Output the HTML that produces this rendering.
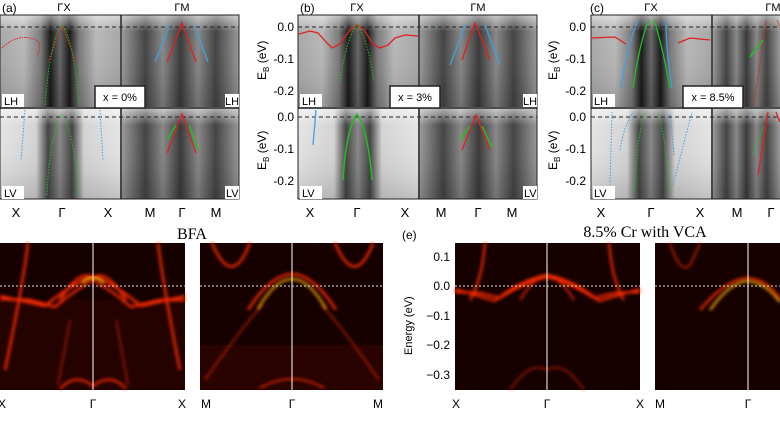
<!DOCTYPE html>
<html><head><meta charset="utf-8"><style>
body{margin:0;background:#fff;width:780px;height:439px;overflow:hidden}
svg{display:block;font-family:"Liberation Sans",sans-serif}
</style></head><body>
<svg width="780" height="439" viewBox="0 0 780 439" xmlns="http://www.w3.org/2000/svg">
<defs>
<linearGradient id="gx" x1="0" x2="1" y1="0" y2="0">
<stop offset="0" stop-color="#a8a8a8"/><stop offset="0.2" stop-color="#b8b8b8"/><stop offset="0.34" stop-color="#7a7a7a"/><stop offset="0.42" stop-color="#1a1a1a"/><stop offset="0.5" stop-color="#666"/><stop offset="0.58" stop-color="#1a1a1a"/><stop offset="0.66" stop-color="#7a7a7a"/><stop offset="0.8" stop-color="#b8b8b8"/><stop offset="1" stop-color="#a8a8a8"/></linearGradient>
<linearGradient id="gxl" x1="0" x2="1" y1="0" y2="0">
<stop offset="0" stop-color="#e4e4e4"/><stop offset="0.3" stop-color="#d4d4d4"/><stop offset="0.4" stop-color="#444"/><stop offset="0.5" stop-color="#888"/><stop offset="0.6" stop-color="#444"/><stop offset="0.7" stop-color="#d4d4d4"/><stop offset="1" stop-color="#e4e4e4"/></linearGradient>
<linearGradient id="gm" x1="0" x2="1" y1="0" y2="0">
<stop offset="0" stop-color="#999"/><stop offset="0.2" stop-color="#444"/><stop offset="0.35" stop-color="#888"/><stop offset="0.5" stop-color="#3a3a3a"/><stop offset="0.65" stop-color="#888"/><stop offset="0.8" stop-color="#444"/><stop offset="1" stop-color="#999"/></linearGradient>
<linearGradient id="top" x1="0" x2="0" y1="0" y2="1">
<stop offset="0" stop-color="#fff" stop-opacity="0.55"/><stop offset="0.18" stop-color="#fff" stop-opacity="0"/><stop offset="0.7" stop-color="#000" stop-opacity="0.05"/><stop offset="1" stop-color="#000" stop-opacity="0.15"/></linearGradient>
<filter id="glow" x="-20%" y="-20%" width="140%" height="140%"><feGaussianBlur stdDeviation="1.6"/></filter>
</defs>

<!-- ===== top panel (a) ===== -->
<g>
<rect x="0" y="15" width="120" height="92" fill="url(#gx)"/>
<rect x="122" y="15" width="117" height="92" fill="url(#gm)"/>
<rect x="0" y="109" width="120" height="90" fill="url(#gxl)"/>
<rect x="122" y="109" width="117" height="90" fill="url(#gm)"/>
<rect x="0" y="15" width="239" height="92" fill="url(#top)"/>
<rect x="0" y="109" width="239" height="90" fill="url(#top)"/>
<rect x="0" y="15" width="239" height="184" fill="none" stroke="#222"/>
<line x1="121" y1="15" x2="121" y2="199" stroke="#111" stroke-width="1.5"/>
<line x1="0" y1="108" x2="239" y2="108" stroke="#111" stroke-width="1.5"/>
<line x1="0" y1="27" x2="239" y2="27" stroke="#222" stroke-dasharray="4,3"/>
<line x1="0" y1="117" x2="239" y2="117" stroke="#222" stroke-dasharray="4,3"/>
<path d="M2 48 Q15 35 30 38 T37 55" stroke="#e02020" fill="none" stroke-dasharray="1.5,1"/>
<path d="M48 62 L62 25 L76 62" stroke="#e02020" fill="none" stroke-dasharray="1.5,1"/>
<path d="M45 105 Q50 40 62 25 Q74 40 79 105" stroke="#20c020" fill="none" stroke-dasharray="1.5,1.5"/>
<path d="M47 195 Q50 130 62 115 Q74 130 78 195" stroke="#20c020" fill="none" stroke-dasharray="1.5,1.5"/>
<path d="M25 110 L21 160 M100 110 L103 160" stroke="#40a0e0" fill="none" stroke-dasharray="1.5,1.5"/>
<path d="M155 62 L170 25 M208 62 L194 25" stroke="#40a0e0" fill="none" stroke-width="1.3"/>
<path d="M167 62 L182 23 L196 62" stroke="#e02020" fill="none" stroke-width="1.3"/>
<path d="M167 153 L182 114 L196 153" stroke="#e02020" fill="none" stroke-width="1.3"/>
<path d="M167 140 L176 125 M189 125 L198 150" stroke="#20c020" fill="none" stroke-width="1.5"/>
<rect x="2" y="94" width="22" height="13" fill="#fff"/><text x="4" y="105" font-size="11">LH</text>
<rect x="225" y="94" width="14" height="13" fill="#fff"/><text x="225" y="105" font-size="11">LH</text>
<rect x="2" y="186" width="22" height="13" fill="#fff"/><text x="4" y="197" font-size="11">LV</text>
<rect x="225" y="186" width="14" height="13" fill="#fff"/><text x="226" y="197" font-size="11">LV</text>
<rect x="95" y="86" width="50" height="22" fill="#fff" stroke="#222" stroke-width="1.5"/><text x="120" y="101" font-size="11" text-anchor="middle">x = 0%</text>
<text x="2" y="12" font-size="12">(a)</text>
<text x="64" y="11" font-size="11" text-anchor="middle">ΓX</text>
<text x="182" y="11" font-size="11" text-anchor="middle">ΓM</text>
<g font-size="13" text-anchor="middle"><text x="16" y="217">X</text><text x="62" y="217">Γ</text><text x="108" y="217">X</text><text x="150" y="217">M</text><text x="182" y="217">Γ</text><text x="216" y="217">M</text></g>
</g>

<!-- ===== top panel (b) ===== -->
<g>
<rect x="298" y="15" width="120" height="92" fill="url(#gx)"/>
<rect x="420" y="15" width="117" height="92" fill="url(#gm)"/>
<rect x="298" y="109" width="120" height="90" fill="url(#gxl)"/>
<rect x="420" y="109" width="117" height="90" fill="url(#gm)"/>
<rect x="298" y="15" width="239" height="92" fill="url(#top)"/>
<rect x="298" y="109" width="239" height="90" fill="url(#top)"/>
<rect x="298" y="15" width="239" height="184" fill="none" stroke="#222"/>
<line x1="419" y1="15" x2="419" y2="199" stroke="#111" stroke-width="1.5"/>
<line x1="298" y1="108" x2="537" y2="108" stroke="#111" stroke-width="1.5"/>
<line x1="298" y1="27" x2="537" y2="27" stroke="#222" stroke-dasharray="4,3"/>
<line x1="298" y1="117" x2="537" y2="117" stroke="#222" stroke-dasharray="4,3"/>
<path d="M299 34 L310 31 L318 33 L327 43 L332 48 L340 44 L350 30 L357 25 L364 30 L373 44 L380 48 L388 45 L395 38 L405 35 L418 36" stroke="#e02020" fill="none" stroke-width="1.3"/>
<path d="M340 82 Q346 40 357 23 Q368 40 374 82" stroke="#20c020" fill="none" stroke-dasharray="1.5,1.5"/>
<path d="M343 180 Q346 130 357 114 Q368 130 372 180" stroke="#20c020" fill="none" stroke-width="1.5"/>
<path d="M316 110 L313 145" stroke="#40a0e0" fill="none" stroke-width="1.3"/>
<path d="M450 65 L465 25 M500 65 L485 25" stroke="#40a0e0" fill="none" stroke-width="1.3"/>
<path d="M462 60 L475 23 L490 60" stroke="#e02020" fill="none" stroke-width="1.3"/>
<path d="M462 150 L476 115 L490 150" stroke="#e02020" fill="none" stroke-width="1.3"/>
<path d="M460 140 L470 126 M482 126 L492 148" stroke="#20c020" fill="none" stroke-width="1.5"/>
<rect x="300" y="94" width="22" height="13" fill="#fff"/><text x="302" y="105" font-size="11">LH</text>
<rect x="523" y="94" width="14" height="13" fill="#fff"/><text x="523" y="105" font-size="11">LH</text>
<rect x="300" y="186" width="22" height="13" fill="#fff"/><text x="302" y="197" font-size="11">LV</text>
<rect x="523" y="186" width="14" height="13" fill="#fff"/><text x="524" y="197" font-size="11">LV</text>
<rect x="390" y="86" width="50" height="22" fill="#fff" stroke="#222" stroke-width="1.5"/><text x="415" y="101" font-size="11" text-anchor="middle">x = 3%</text>
<text x="300" y="12" font-size="12">(b)</text>
<text x="357" y="11" font-size="11" text-anchor="middle">ΓX</text>
<text x="478" y="11" font-size="11" text-anchor="middle">ΓM</text>
<g font-size="12" text-anchor="end"><text x="294" y="31">0.0</text><text x="294" y="63">-0.1</text><text x="294" y="95">-0.2</text><text x="294" y="121">0.0</text><text x="294" y="153">-0.1</text><text x="294" y="185">-0.2</text></g>
<text transform="translate(266,80) rotate(-90)" font-size="12">E<tspan font-size="8" dy="3">B</tspan><tspan dy="-3"> (eV)</tspan></text>
<text transform="translate(266,170) rotate(-90)" font-size="12">E<tspan font-size="8" dy="3">B</tspan><tspan dy="-3"> (eV)</tspan></text>
<g font-size="13" text-anchor="middle"><text x="310" y="217">X</text><text x="357" y="217">Γ</text><text x="405" y="217">X</text><text x="441" y="217">M</text><text x="478" y="217">Γ</text><text x="512" y="217">M</text></g>
</g>

<!-- ===== top panel (c) ===== -->
<g>
<rect x="591" y="15" width="120" height="92" fill="url(#gx)"/>
<rect x="713" y="15" width="67" height="92" fill="url(#gm)"/>
<rect x="591" y="109" width="120" height="90" fill="url(#gxl)"/>
<rect x="713" y="109" width="67" height="90" fill="url(#gm)"/>
<rect x="591" y="15" width="190" height="92" fill="url(#top)"/>
<rect x="591" y="109" width="190" height="90" fill="url(#top)"/>
<rect x="591" y="15" width="190" height="184" fill="none" stroke="#222"/>
<line x1="712" y1="15" x2="712" y2="199" stroke="#111" stroke-width="1.5"/>
<line x1="591" y1="108" x2="780" y2="108" stroke="#111" stroke-width="1.5"/>
<line x1="591" y1="27" x2="780" y2="27" stroke="#222" stroke-dasharray="4,3"/>
<line x1="591" y1="117" x2="780" y2="117" stroke="#222" stroke-dasharray="4,3"/>
<path d="M591 38 L615 37 L626 44 M678 43 L690 38 L710 40" stroke="#e02020" fill="none" stroke-width="1.3"/>
<path d="M621 88 Q626 50 638 20 M672 88 Q666 50 666 20" stroke="#40a0e0" fill="none" stroke-width="1.3"/>
<path d="M633 88 Q640 40 649 20 M670 88 Q661 40 654 20" stroke="#20c020" fill="none" stroke-width="1.3"/>
<path d="M610 185 L612 112 M620 150 Q624 125 633 113 M673 185 L692 112 M674 155 L670 113" stroke="#40a0e0" fill="none" stroke-dasharray="1.5,1.5"/>
<path d="M634 192 Q638 130 645 113 M669 192 Q665 130 658 113" stroke="#20c020" fill="none" stroke-dasharray="1.5,1.5"/>
<path d="M754 105 L766 20 M777 20 L780 28" stroke="#e02020" fill="none" stroke-dasharray="1.5,1"/>
<path d="M750 57 L763 40" stroke="#20c020" fill="none" stroke-width="1.5"/>
<path d="M758 175 L768 112 M776 112 L780 122" stroke="#e02020" fill="none" stroke-width="1.3"/>
<path d="M752 155 L764 125" stroke="#20c020" fill="none" stroke-dasharray="1.5,1"/>
<rect x="593" y="94" width="22" height="13" fill="#fff"/><text x="594" y="105" font-size="11">LH</text>
<rect x="593" y="186" width="22" height="13" fill="#fff"/><text x="594" y="197" font-size="11">LV</text>
<rect x="683" y="86" width="60" height="22" fill="#fff" stroke="#222" stroke-width="1.5"/><text x="713" y="101" font-size="11" text-anchor="middle">x = 8.5%</text>
<text x="590" y="12" font-size="12">(c)</text>
<text x="651" y="11" font-size="11" text-anchor="middle">ΓX</text>
<text x="773" y="11" font-size="11" text-anchor="middle">ΓM</text>
<g font-size="12" text-anchor="end"><text x="586" y="31">0.0</text><text x="586" y="63">-0.1</text><text x="586" y="95">-0.2</text><text x="586" y="121">0.0</text><text x="586" y="153">-0.1</text><text x="586" y="185">-0.2</text></g>
<text transform="translate(557,80) rotate(-90)" font-size="12">E<tspan font-size="8" dy="3">B</tspan><tspan dy="-3"> (eV)</tspan></text>
<text transform="translate(557,170) rotate(-90)" font-size="12">E<tspan font-size="8" dy="3">B</tspan><tspan dy="-3"> (eV)</tspan></text>
<g font-size="13" text-anchor="middle"><text x="601" y="217">X</text><text x="651" y="217">Γ</text><text x="700" y="217">X</text><text x="737" y="217">M</text><text x="771" y="217">Γ</text></g>
</g>

<!-- ===== bottom (d) BFA ===== -->
<text x="192" y="239" font-size="16" font-family="Liberation Serif,serif" text-anchor="middle">BFA</text>
<g>
<rect x="0" y="243" width="185" height="147" fill="#160100"/>
<rect x="0" y="300" width="185" height="90" fill="#3a0500" opacity="0.4"/>
<g fill="none" stroke="#ff2a00" stroke-width="2.4" filter="url(#glow)">
<path d="M0 299 L30 300 L55 307 Q75 290 93 280 Q111 290 131 307 L160 300 L185 300"/>
<path d="M0 296 L45 306 Q70 285 93 276 Q116 285 141 306 L185 296"/>
<path d="M60 300 Q80 268 93 278 Q106 268 126 300"/>
<path d="M28 243 Q22 290 5 370 M158 243 Q164 290 180 370"/>
<path d="M70 320 L58 385 M116 320 L128 385" stroke-width="1.4" opacity="0.7"/>
<path d="M60 389 Q75 372 93 386 Q111 372 126 389" stroke-width="2"/>
</g>
<path d="M82 283 Q93 272 104 283" stroke="#ffd000" stroke-width="2" fill="none" filter="url(#glow)"/>
<line x1="93" y1="243" x2="93" y2="390" stroke="#fff" stroke-width="1"/>
<line x1="0" y1="286" x2="185" y2="286" stroke="#ddd" stroke-dasharray="2,2"/>
</g>
<g>
<rect x="200" y="243" width="183" height="147" fill="#160100"/>
<rect x="200" y="345" width="183" height="45" fill="#3a0500" opacity="0.5"/>
<g fill="none" stroke="#ff2a00" stroke-width="2.4" filter="url(#glow)">
<path d="M212 243 Q232 290 250 243 M335 243 Q355 290 373 243"/>
<path d="M248 310 Q270 275 292 274 Q314 275 336 310"/>
<path d="M205 380 Q240 330 262 305 M379 380 Q344 330 322 305" stroke-width="1.6" opacity="0.7"/>
<path d="M260 388 Q292 370 324 388" stroke-width="1.6"/>
</g>
<path d="M258 309 Q275 279 292 279 Q309 279 326 309" stroke="#ffb000" stroke-width="2" fill="none" filter="url(#glow)"/>
<line x1="292" y1="243" x2="292" y2="390" stroke="#fff"/>
<line x1="200" y1="286" x2="383" y2="286" stroke="#ddd" stroke-dasharray="2,2"/>
</g>
<g font-size="12" text-anchor="middle"><text x="2" y="408">X</text><text x="93" y="408">Γ</text><text x="182" y="408">X</text><text x="206" y="408">M</text><text x="292" y="408">Γ</text><text x="378" y="408">M</text></g>

<!-- ===== bottom (e) VCA ===== -->
<text x="402" y="239" font-size="12">(e)</text>
<text x="645" y="237" font-size="16" font-family="Liberation Serif,serif" text-anchor="middle">8.5% Cr with VCA</text>
<g>
<rect x="455" y="243" width="185" height="147" fill="#160100"/>
<g fill="none" stroke="#ff2a00" stroke-width="2.2" filter="url(#glow)">
<path d="M455 292 L480 293 L500 298 Q525 282 547 277 Q569 282 594 298 L615 293 L640 292"/>
<path d="M455 289 L495 301 Q520 280 547 275 Q574 280 599 301 L640 289"/>
<path d="M485 243 Q482 280 470 300 M609 243 Q612 280 624 300"/>
<path d="M520 300 Q535 275 547 278 Q559 275 574 300" stroke-width="1.6"/>
<path d="M510 390 Q530 360 547 370 Q564 360 584 390" stroke-width="1.4" opacity="0.7"/>
</g>
<line x1="547" y1="243" x2="547" y2="390" stroke="#fff"/>
<line x1="455" y1="286" x2="640" y2="286" stroke="#ddd" stroke-dasharray="2,2"/>
</g>
<g>
<rect x="655" y="243" width="125" height="147" fill="#160100"/>
<g fill="none" stroke="#ff2a00" stroke-width="2.2" filter="url(#glow)">
<path d="M670 243 Q680 275 690 265 Q695 255 700 243" stroke-width="1.6" opacity="0.8"/>
<path d="M700 310 Q725 280 747 278 Q769 280 780 300"/>
</g>
<path d="M710 310 Q730 282 747 281 Q765 282 780 302" stroke="#ffb000" stroke-width="2" fill="none" filter="url(#glow)"/>
<line x1="748" y1="243" x2="748" y2="390" stroke="#fff"/>
<line x1="655" y1="286" x2="780" y2="286" stroke="#ddd" stroke-dasharray="2,2"/>
</g>
<g font-size="12" text-anchor="end"><text x="450" y="261">0.1</text><text x="450" y="290">0.0</text><text x="450" y="320">−0.1</text><text x="450" y="349">−0.2</text><text x="450" y="379">−0.3</text></g>
<text transform="translate(412,355) rotate(-90)" font-size="11">Energy (eV)</text>
<g font-size="12" text-anchor="middle"><text x="456" y="408">X</text><text x="547" y="408">Γ</text><text x="640" y="408">X</text><text x="660" y="408">M</text><text x="748" y="408">Γ</text></g>
</svg>
</body></html>
